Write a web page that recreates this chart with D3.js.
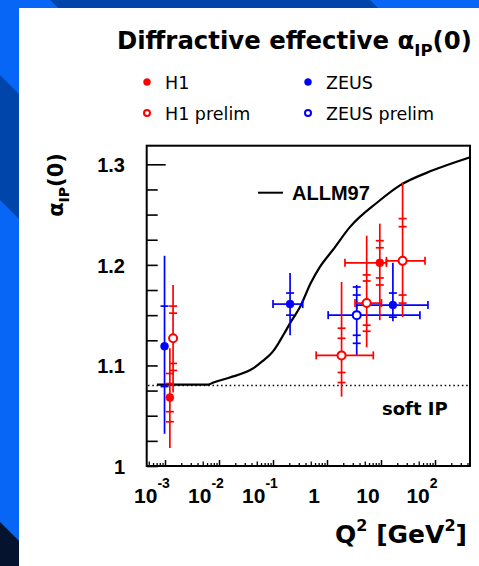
<!DOCTYPE html>
<html>
<head>
<meta charset="utf-8">
<script src="https://cdn.jsdelivr.net/npm/d3@7"></script>
<style>
body { margin: 0; overflow: hidden; background: #ffffff; }
</style>
</head>
<body>
<div id="canvas"></div>
<script>
"use strict"

/* ALLM97 curve (Q2 in GeV2, alpha) */
const curveQ2 = [7.08e-4, 6.3e-3, 7.9e-3, 0.0158, 0.0427, 0.063, 0.1, 0.126, 0.158, 0.224, 0.316, 0.5, 0.74, 1.29, 2.7, 8.5, 22.4, 91, 390, 445];
const curveAlpha = [1.081, 1.081, 1.083, 1.088, 1.097, 1.104, 1.114, 1.122, 1.131, 1.145, 1.158, 1.182, 1.198, 1.215, 1.238, 1.262, 1.279, 1.294, 1.306, 1.307];
const softPomeron = 1.08;

/* data points: q2, alpha, total error up/down, inner error ticks, Q2 bin (lo, hi) */
const h1 = [
  { q2: 1.23e-3, a: 1.068, up: 0.049, dn: 0.050, ticks: [0.014, 0.024] },
  { q2: 9.5, a: 1.202, up: 0.039, dn: 0.057, ticks: [0.015, 0.022], lo: 2.15, hi: 12.6 }
];
const h1Prelim = [
  { q2: 1.41e-3, a: 1.127, up: 0.053, dn: 0.054, ticks: [0.025, 0.032] },
  { q2: 1.86, a: 1.110, up: 0.073, dn: 0.041, ticks: [0.017, 0.027], lo: 0.63, hi: 7.2 },
  { q2: 5.43, a: 1.162, up: 0.067, dn: 0.044, ticks: [0.022, 0.028], lo: 3.3, hi: 10.2 },
  { q2: 25.1, a: 1.204, up: 0.078, dn: 0.056, ticks: [0.034, 0.042], lo: 12.6, hi: 65.3 }
];
const zeus = [
  { q2: 9.8e-4, a: 1.119, up: 0.090, dn: 0.087, ticks: [0.040] },
  { q2: 0.207, a: 1.161, up: 0.031, dn: 0.031, ticks: [0.011], lo: 0.1, hi: 0.355 },
  { q2: 16.6, a: 1.160, up: 0.042, dn: 0.016, ticks: [0.012], lo: 3.55, hi: 74 }
];
const zeusPrelim = [
  { q2: 3.55, a: 1.150, up: 0.030, dn: 0.040, ticks: [0.020, 0.028], lo: 1.05, hi: 52.5 }
];

const yTickLabels = ["1", "1.1", "1.2", "1.3"];
const yTickValues = [1, 1.1, 1.2, 1.3];
const xTickValues = [1e-3, 1e-2, 1e-1, 1, 10, 100];
const xTickBase = ["10", "10", "10", "1", "10", "10"];
const xTickSup = ["-3", "-2", "-1", "", "", "2"];

const legendNames = ["H1", "ZEUS", "H1 prelim", "ZEUS prelim"];

let drawing = d3.select("#canvas")
  .append("svg")
  .attr("width", 479)
  .attr("height", 566);

/* slide background with diagonal bands */
drawing.append("rect").attr("width", 479).attr("height", 566).attr("fill", "#0046aa");
function band(u1, u2, colour) {
  drawing.append("polygon")
    .attr("points", [[u1, 0], [u2, 0], [u2 + 600, 600], [u1 + 600, 600]].join(" "))
    .attr("fill", colour);
}
band(-75, 50, "#0866f6");
band(370, 1000, "#0866f6");
band(-522, -200, "#0866f6");
band(-1200, -522, "#06132e");

let panel = drawing.append("rect")
  .attr("x", 19).attr("y", 8)
  .attr("width", 460).attr("height", 558)
  .attr("fill", "#ffffff");

/* scales */
let x = d3.scaleLog().domain([4.58e-4, 444.6]).range([146.7, 470]);
let y = d3.scaleLinear().domain([1, 1.3185]).range([466, 145.7]);

/* axes ticks */
let yMinor = d3.range(0, 13).map(i => 1 + i * 0.025);
let yAxis = drawing.append("g")
  .attr("transform", "translate(146.7,0)")
  .call(d3.axisLeft(y).tickValues(yMinor).tickSize(-11).tickFormat(""));
yAxis.select(".domain").remove();
yAxis.selectAll("line").attr("stroke", "black").attr("stroke-width", 1.6)
  .attr("x2", d => Math.abs(d - 1.3) < 1e-6 ? 19 : 11);

let xMinor = [];
for (let d = -4; d <= 2; d++) {
  for (let k = 2; k <= 9; k++) {
    let v = k * Math.pow(10, d);
    if (v > 4.6e-4 && v < 444) xMinor.push(v);
  }
}
let xAxisMinor = drawing.append("g")
  .attr("transform", "translate(0,466)")
  .call(d3.axisBottom(x).tickValues(xMinor).tickSize(-3).tickFormat(""));
xAxisMinor.select(".domain").remove();
xAxisMinor.selectAll("line").attr("stroke", "black").attr("stroke-width", 1.3)
  .attr("y2", d => Math.abs(d / Math.pow(10, Math.floor(Math.log10(d) + 1e-9)) - 5) < 1e-6 ? -4.5 : -3);
let xAxisMajor = drawing.append("g")
  .attr("transform", "translate(0,466)")
  .call(d3.axisBottom(x).tickValues(xTickValues).tickSize(-6).tickFormat(""));
xAxisMajor.select(".domain").remove();
xAxisMajor.selectAll("line").attr("stroke", "black").attr("stroke-width", 1.5);

/* frame */
let frame = drawing.append("rect")
  .attr("x", 146.7).attr("y", 145.7)
  .attr("width", 470 - 146.7).attr("height", 466 - 145.7)
  .attr("fill", "none").attr("stroke", "black").attr("stroke-width", 2);

/* tick labels */
drawing.selectAll(".ylab").data(yTickValues).enter().append("text")
  .attr("x", 125).attr("y", d => y(d) + 8)
  .attr("text-anchor", "end")
  .attr("font-family", "Liberation Sans, Arial, sans-serif")
  .attr("font-weight", "bold").attr("font-size", 20)
  .text((d, i) => yTickLabels[i]);

let xlab = drawing.selectAll(".xlab").data(xTickValues).enter().append("text")
  .attr("x", d => x(d) - 13).attr("y", 503)
  .attr("text-anchor", "middle")
  .attr("font-family", "Liberation Sans, Arial, sans-serif")
  .attr("font-weight", "bold").attr("font-size", 21);
xlab.append("tspan").text((d, i) => xTickBase[i]);
xlab.append("tspan").attr("dy", -15).attr("font-size", 14).text((d, i) => xTickSup[i]);

/* soft pomeron line */
let softLine = drawing.append("line")
  .attr("x1", 148).attr("x2", 469)
  .attr("y1", y(softPomeron)).attr("y2", y(softPomeron))
  .attr("stroke", "black").attr("stroke-width", 1.5)
  .attr("stroke-dasharray", "1.5,2.8");

/* ALLM97 curve */
let curve = drawing.append("path")
  .datum(curveQ2.map((q, i) => [q, curveAlpha[i]]))
  .attr("d", d3.line().x(d => x(d[0])).y(d => y(d[1])).curve(d3.curveMonotoneX))
  .attr("fill", "none").attr("stroke", "black").attr("stroke-width", 2.2);

/* error bars and markers */
function drawSeries(data, colour, open) {
  let g = drawing.append("g").attr("stroke", colour).attr("stroke-width", 1.7);
  data.forEach(p => {
    let cx = x(p.q2), cy = y(p.a);
    g.append("line").attr("x1", cx).attr("x2", cx).attr("y1", y(p.a + p.up)).attr("y2", y(p.a - p.dn));
    p.ticks.forEach(t => {
      [p.a + t, p.a - t].forEach(v => {
        g.append("line").attr("x1", cx - 4).attr("x2", cx + 4).attr("y1", y(v)).attr("y2", y(v));
      });
    });
    if (p.lo !== undefined) {
      g.append("line").attr("x1", x(p.lo)).attr("x2", x(p.hi)).attr("y1", cy).attr("y2", cy);
      [p.lo, p.hi].forEach(q => {
        g.append("line").attr("x1", x(q)).attr("x2", x(q)).attr("y1", cy - 4).attr("y2", cy + 4);
      });
    }
  });
  drawing.append("g").selectAll("circle").data(data).enter().append("circle")
    .attr("cx", d => x(d.q2)).attr("cy", d => y(d.a))
    .attr("r", 4)
    .attr("fill", open ? "white" : colour)
    .attr("stroke", colour).attr("stroke-width", open ? 2 : 0.5);
}
drawSeries(zeus, "#0000ff", false);
drawSeries(zeusPrelim, "#0000ff", true);
drawSeries(h1, "#ff0000", false);
drawSeries(h1Prelim, "#ff0000", true);

/* curve labels */
drawing.append("line").attr("x1", 258).attr("x2", 283).attr("y1", 192.7).attr("y2", 192.7)
  .attr("stroke", "black").attr("stroke-width", 2);
drawing.append("text").attr("x", 292).attr("y", 200)
  .attr("font-family", "Liberation Sans, Arial, sans-serif")
  .attr("font-weight", "bold").attr("font-size", 20)
  .text("ALLM97");
drawing.append("text").attr("x", 382).attr("y", 415)
  .attr("font-family", "DejaVu Sans, sans-serif")
  .attr("font-weight", "bold").attr("font-size", 18)
  .text("soft IP");

/* title */
let title = drawing.append("text").attr("x", 117).attr("y", 49)
  .attr("font-family", "DejaVu Sans, sans-serif")
  .attr("font-weight", "bold").attr("font-size", 24.4);
title.append("tspan").text("Diffractive effective α");
title.append("tspan").attr("dy", 7).attr("font-size", 16.5).text("IP");
title.append("tspan").attr("dy", -7).text("(0)");

/* legend */
const legendColours = ["#ff0000", "#0000ff", "#ff0000", "#0000ff"];
const legendOpen = [false, false, true, true];
const legendX = [147, 308, 147, 308];
const legendY = [82, 82, 113, 113];
legendNames.forEach((name, i) => {
  drawing.append("circle")
    .attr("cx", legendX[i]).attr("cy", legendY[i]).attr("r", legendOpen[i] ? 3 : 3.5)
    .attr("fill", legendOpen[i] ? "white" : legendColours[i])
    .attr("stroke", legendColours[i]).attr("stroke-width", legendOpen[i] ? 2 : 0.5);
  drawing.append("text")
    .attr("x", legendX[i] + 18).attr("y", legendY[i] + 7)
    .attr("font-family", "DejaVu Sans, sans-serif")
    .attr("font-size", 17.5)
    .text(name);
});

/* axis titles */
let ytitle = drawing.append("text")
  .attr("transform", "translate(63,185) rotate(-90)")
  .attr("text-anchor", "middle")
  .attr("font-family", "DejaVu Sans, sans-serif")
  .attr("font-weight", "bold").attr("font-size", 21);
ytitle.append("tspan").text("α");
ytitle.append("tspan").attr("dy", 6).attr("font-size", 14).text("IP");
ytitle.append("tspan").attr("dy", -6).text("(0)");

let xtitle = drawing.append("text")
  .attr("x", 467).attr("y", 543)
  .attr("text-anchor", "end")
  .attr("font-family", "DejaVu Sans, sans-serif")
  .attr("font-weight", "bold").attr("font-size", 25);
xtitle.append("tspan").text("Q");
xtitle.append("tspan").attr("dy", -12).attr("font-size", 16).text("2");
xtitle.append("tspan").attr("dy", 12).text(" [GeV");
xtitle.append("tspan").attr("dy", -12).attr("font-size", 16).text("2");
xtitle.append("tspan").attr("dy", 12).text("]");
</script>
</body>
</html>
